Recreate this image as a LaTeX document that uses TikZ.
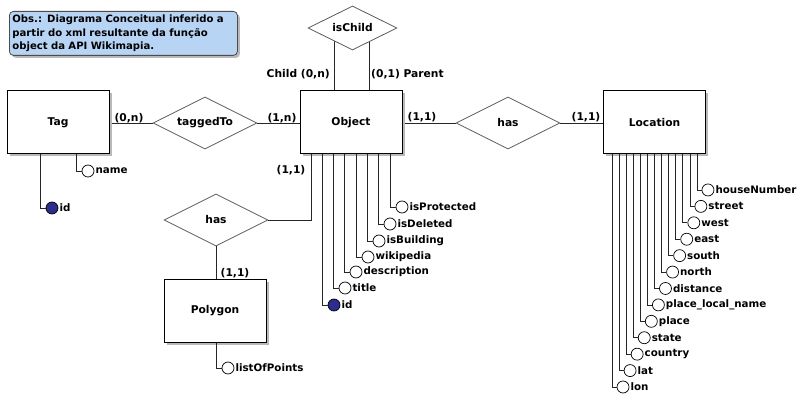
\documentclass[tikz,border=0pt]{standalone}
\usepackage{fontspec}
\setmainfont{DejaVu Sans}
\usetikzlibrary{shapes.geometric,shadows,backgrounds}
\definecolor{notefill}{RGB}{184,212,244}
\definecolor{keyblue}{RGB}{45,45,140}
\definecolor{relline}{RGB}{90,90,90}
\begin{document}
\begin{tikzpicture}[x=1pt,y=-1pt,
 every node/.style={font=\fontsize{10.7}{13.5}\selectfont\bfseries},
 entity/.style={draw=black,fill=white,minimum width=102pt,minimum height=63pt,inner sep=0pt,line width=1pt,
   drop shadow={shadow xshift=2.5pt,shadow yshift=-2.5pt,fill=gray!55,opacity=1}},
 rel/.style={diamond,draw=relline,fill=white,aspect=2,inner sep=0pt,minimum width=104pt,minimum height=52pt,line width=0.8pt},
 attr/.style={circle,draw=black,fill=white,minimum size=12pt,inner sep=0pt,line width=0.7pt},
 keyattr/.style={attr,fill=keyblue},
 lbl/.style={anchor=west,inner sep=1pt,font=\fontsize{10.3}{12}\selectfont\bfseries},
 card/.style={inner sep=0pt},
 conn/.style={draw=black!85,line width=0.75pt},
 note/.style={draw=gray!60!black,fill=notefill,rounded corners=4pt,line width=0.8pt,align=left,
   font=\fontsize{10.1}{13.5}\selectfont\bfseries,
   drop shadow={shadow xshift=2.5pt,shadow yshift=-2.5pt,fill=gray!55,opacity=1}}
]
\useasboundingbox (0,0) rectangle (797,395);

% note
\node[note,anchor=north west,text width=222pt,inner xsep=3pt,inner ysep=2pt,minimum height=44pt] (obs) at (9,11)
 {Obs.: Diagrama Conceitual inferido a\\partir do xml resultante da função\\object da API Wikimapia.};

% entities
\node[entity] (tag) at (58,122.5) {Tag};
\node[entity] (obj) at (351,122.5) {Object};
\node[entity] (loc) at (654.5,122.5) {Location};
\node[entity] (poly) at (215,310.5) {Polygon};

% relationships
\node[rel] (tagged) at (205,123) {taggedTo};
\node[rel] (has) at (508,123) {has};
\node[rel,minimum width=89pt,minimum height=44pt] (ischild) at (352.5,28) {isChild};
\node[rel] (has2) at (216,220) {has};

\begin{scope}[on background layer]
\draw[conn] (tag.east |- tagged.west) -- (tagged.west);
\draw[conn] (tagged.east) -- (obj.west |- tagged.east);
\draw[conn] (obj.east |- has.west) -- (has.west);
\draw[conn] (has.east) -- (loc.west |- has.east);
\draw[conn] ([xshift=35pt]obj.north west) -- ([xshift=35pt]obj.north west |- ischild.center);
\draw[conn] ([xshift=70pt]obj.north west) -- ([xshift=70pt]obj.north west |- ischild.center);
\end{scope}
\draw[conn] (has2.east) -| ([xshift=12pt]obj.south west);
\draw[conn] (has2.south) -- (poly.north -| has2.south);

% cardinalities
\node[card] (c1) at (129,118) {(0,n)};
\node[card] (c2) at (282,118) {(1,n)};
\node[card] (c3) at (422,117) {(1,1)};
\node[card] (c4) at (586,117) {(1,1)};
\node[card,anchor=east] (c5) at (330,74) {Child (0,n)};
\node[card,anchor=west] (c6) at (371,74) {(0,1) Parent};
\node[card] (c7) at (291,170) {(1,1)};
\node[card] (c8) at (235,273) {(1,1)};

% Tag attributes
\node[keyattr] (tid) at (52,208) {};
\node[lbl] at (tid.east) {id};
\draw[conn] ([xshift=34pt]tag.south west) |- (tid.west);
\node[attr] (tname) at (88,171) {};
\node[lbl] at (tname.east) {name};
\draw[conn] ([xshift=70pt]tag.south west) |- (tname.west);

% Polygon attribute
\node[attr] (plist) at (228,368) {};
\node[lbl] at (plist.east) {listOfPoints};
\draw[conn] ([xshift=53pt]poly.south west) |- (plist.west);

% Object attributes
\node[keyattr] (o0) at (334,305) {};
\node[lbl] at (o0.east) {id};
\draw[conn] ([xshift=23pt]obj.south west) |- (o0.west);
\foreach \nm/\xx/\yy [count=\i] in {title/334/288, description/345/272, wikipedia/357/257, isBuilding/368/241, isDeleted/379/224, isProtected/391/207}{
  \node[attr] (o\i) at (\xx+11,\yy) {};
  \node[lbl] at (o\i.east) {\nm};
  \pgfmathsetmacro\dx{\xx-300}
  \draw[conn] ([xshift=\dx pt]obj.south west) |- (o\i.west);
}

% Location attributes
\foreach \nm [count=\i from 0] in {lon, lat, country, state, place, place\_local\_name, distance, north, south, east, west, street, houseNumber}{
  \pgfmathsetmacro\xx{612+\i*7.08}
  \pgfmathsetmacro\yy{387-\i*16.42}
  \pgfmathsetmacro\dx{\xx-603}
  \node[attr] (l\i) at (\xx+11,\yy) {};
  \node[lbl] at (l\i.east) {\nm};
  \draw[conn] ([xshift=\dx pt]loc.south west) |- (l\i.west);
}
\end{tikzpicture}
\end{document}
